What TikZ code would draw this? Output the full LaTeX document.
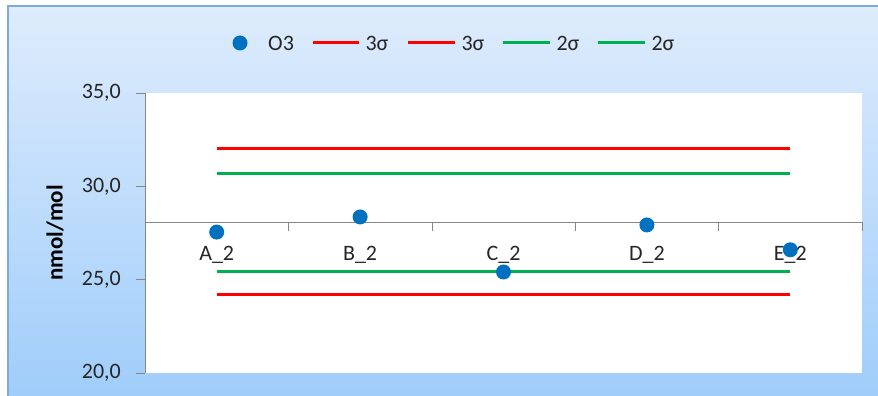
\documentclass[tikz,border=0pt]{standalone}
\usepackage{fontspec}
\setmainfont{Carlito}
\definecolor{rahmen}{RGB}{125,170,220}
\definecolor{hellblau}{RGB}{222,236,252}
\definecolor{dunkelblau}{RGB}{158,204,250}
\definecolor{achse}{RGB}{134,134,134}
\definecolor{rot}{RGB}{255,0,0}
\definecolor{gruen}{RGB}{0,176,80}
\definecolor{punkt}{RGB}{0,112,192}
\definecolor{schrift}{RGB}{38,38,38}
\begin{document}
\begin{tikzpicture}[x=1pt, y=1pt, font=\fontsize{22}{26}\selectfont, text=schrift,
    grenze/.style={line width=3pt},
    messwert/.style={circle, fill=punkt, inner sep=0pt, minimum size=15pt},
    legtext/.style={anchor=west, inner sep=0pt, text=schrift}]
    \useasboundingbox (0,0) rectangle (878,396);

    % Hintergrund
    \begin{scope}
        \clip (0,0) rectangle (878,396);
        \shadedraw[top color=hellblau, bottom color=dunkelblau, draw=rahmen, line width=1.5pt] (8,-10) rectangle (890,390);
    \end{scope}

    % Diagrammflaeche
    \fill[white] (145,23) rectangle (862,303);

    % Legende
    \node[messwert] (lpunkt) at (240,353) {};
    \node[legtext] (lo3) at (268,353) {O3};
    \draw[grenze, rot] (313,353) -- (359,353) node[legtext, xshift=5pt] (lrot1) {3σ};
    \draw[grenze, rot] (408,353) -- (455,353) node[legtext, xshift=5pt] (lrot2) {3σ};
    \draw[grenze, gruen] (503,353) -- (550,353) node[legtext, xshift=5pt] (lgruen1) {2σ};
    \draw[grenze, gruen] (598,353) -- (645,353) node[legtext, xshift=5pt] (lgruen2) {2σ};

    % Achsentitel
    \node[rotate=90, font=\fontsize{23}{27}\selectfont\bfseries, text=black] (ytitel) at (55,163) {nmol/mol};

    \begin{scope}[yshift=-350.33pt, y=18.667pt]
        % Grenzlinien
        \draw[grenze, rot] (216.7,32.0) -- (790.3,32.0);
        \draw[grenze, gruen] (216.7,30.68) -- (790.3,30.68);
        \draw[grenze, gruen] (216.7,25.46) -- (790.3,25.46);
        \draw[grenze, rot] (216.7,24.18) -- (790.3,24.18);

        % y-Achse
        \draw[achse] (145,20) -- (145,35);
        \foreach \v in {20,25,30,35} {
            \draw[achse] (136,\v) -- (145,\v);
            \node[anchor=east, inner sep=1pt] (y\v) at (122,\v) {\v,0};
        }

        % Kategorienachse
        \draw[achse] (145,28.09) -- (862,28.09);
        \foreach \k in {1,...,5}
            \draw[achse] ({145+143.4*\k},28.09) -- ++(0,-0.48);

        % Messwerte
        \foreach \i/\n/\v in {1/A/27.55, 2/B/28.36, 3/C/25.41, 4/D/27.93, 5/E/26.6} {
            \node (kat\n) at ({145+143.4*(\i-0.5)},26.32) {\n\_2};
            \node[messwert] (wert\n) at ({145+143.4*(\i-0.5)},\v) {};
        }
    \end{scope}
\end{tikzpicture}
\end{document}
